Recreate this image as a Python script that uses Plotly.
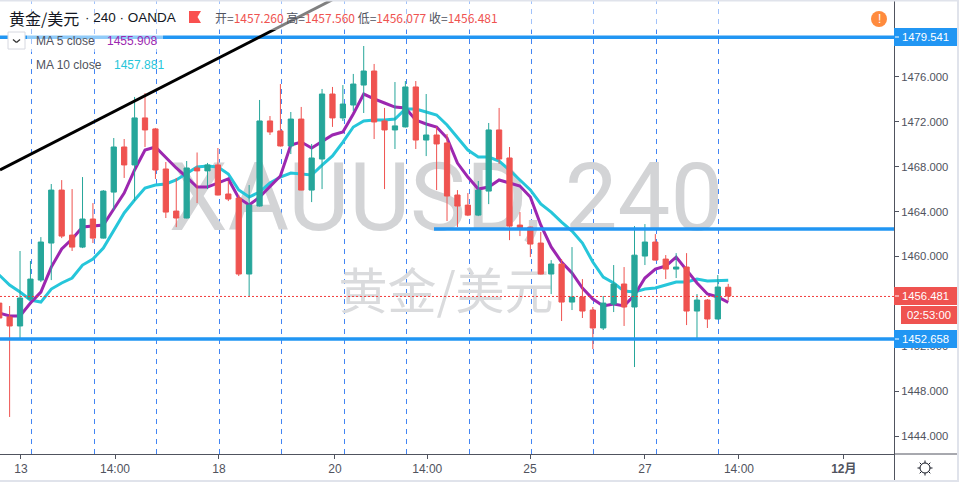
import plotly.graph_objects as go

W, H = 959, 482
PLOT_W, PLOT_H = 894, 454

index = list(range(71))
opens = [1455.85,1454.61,1453.81,1456.21,1457.90,1461.20,1465.92,1461.91,1460.84,1463.34,1461.64,1465.74,1469.76,1468.16,1472.35,1471.37,1467.80,1464.05,1463.43,1467.89,1467.63,1468.16,1465.57,1465.21,1458.44,1464.50,1472.08,1471.19,1469.85,1472.25,1465.92,1468.69,1474.48,1472.35,1473.50,1475.28,1476.53,1472.08,1471.28,1471.55,1475.11,1470.38,1470.83,1470.12,1465.48,1464.58,1463.69,1465.83,1471.28,1468.78,1462.80,1462.62,1461.20,1458.44,1459.33,1455.94,1456.39,1455.23,1453.63,1455.76,1457.55,1455.50,1460.04,1461.29,1459.77,1458.88,1459.06,1455.14,1456.12,1454.43,1457.26]
highs = [1456.12,1455.59,1460.49,1459.60,1461.73,1466.46,1466.81,1466.01,1467.08,1464.76,1465.92,1470.56,1470.47,1474.22,1474.57,1471.46,1468.42,1467.00,1468.51,1469.27,1468.34,1469.67,1466.73,1465.48,1466.37,1473.95,1472.52,1475.37,1472.88,1473.33,1470.03,1474.93,1475.11,1475.28,1476.27,1478.76,1477.16,1473.24,1475.55,1475.64,1475.64,1474.48,1471.55,1470.92,1465.92,1465.65,1466.73,1471.90,1473.24,1469.76,1463.96,1462.65,1462.18,1459.68,1459.77,1460.84,1457.99,1455.50,1456.48,1459.24,1459.06,1462.71,1462.89,1462.00,1460.13,1460.30,1460.30,1456.65,1456.21,1458.35,1457.56]
lows = [1454.16,1445.70,1452.65,1456.12,1457.72,1457.90,1461.64,1460.49,1460.75,1461.20,1461.60,1464.14,1467.00,1464.94,1469.76,1466.91,1463.43,1462.62,1463.40,1464.76,1466.01,1465.45,1464.94,1458.26,1456.48,1464.45,1470.83,1469.80,1469.13,1465.90,1464.85,1466.01,1471.55,1472.08,1472.97,1472.79,1470.47,1466.01,1469.58,1471.50,1469.58,1468.95,1465.92,1463.16,1462.62,1463.60,1463.60,1464.67,1468.25,1461.46,1461.82,1459.95,1458.40,1456.65,1454.25,1455.23,1454.52,1451.75,1453.45,1455.05,1453.81,1450.15,1459.24,1459.65,1457.99,1458.08,1453.89,1452.73,1453.63,1454.40,1456.08]
closes = [1454.52,1453.81,1456.30,1457.99,1461.29,1465.92,1461.82,1460.84,1463.34,1461.64,1465.83,1469.76,1468.16,1472.35,1471.28,1467.71,1463.96,1463.43,1467.89,1467.63,1468.16,1465.48,1465.12,1458.44,1464.58,1472.08,1471.10,1469.85,1472.25,1465.92,1468.78,1474.48,1472.35,1473.59,1475.37,1476.53,1471.99,1471.28,1471.64,1475.11,1470.38,1470.83,1470.03,1465.39,1464.50,1463.69,1465.92,1471.28,1468.69,1462.71,1462.53,1461.11,1458.44,1459.33,1455.94,1456.39,1455.14,1453.63,1455.85,1457.55,1455.50,1460.12,1461.29,1459.68,1458.88,1459.06,1455.14,1456.12,1454.43,1457.28,1456.48]
ma5 = [1454.96,1454.70,1454.70,1455.85,1456.83,1459.06,1460.67,1461.56,1462.63,1462.72,1462.80,1464.23,1465.66,1467.71,1469.49,1469.76,1468.78,1467.89,1467.08,1466.19,1466.19,1466.55,1466.91,1465.21,1464.59,1465.30,1466.19,1467.17,1469.94,1470.20,1469.67,1470.29,1470.83,1471.10,1472.70,1474.48,1474.04,1473.68,1473.32,1473.23,1472.16,1471.81,1471.54,1470.56,1468.33,1467.08,1466.01,1466.19,1466.82,1466.55,1466.28,1465.30,1462.81,1460.85,1459.51,1458.53,1457.19,1456.21,1455.59,1455.76,1455.59,1456.57,1458.08,1458.88,1459.15,1459.95,1458.80,1457.64,1456.66,1456.39,1455.908]
ma10 = [1458.35,1457.46,1456.83,1456.12,1455.94,1457.10,1457.64,1458.08,1459.24,1459.77,1460.76,1462.36,1463.88,1465.03,1466.10,1466.37,1466.46,1466.82,1467.44,1467.98,1468.07,1467.98,1467.35,1465.93,1465.30,1465.75,1466.55,1467.08,1467.44,1467.35,1467.26,1468.15,1468.96,1470.20,1471.54,1472.07,1472.16,1472.16,1472.25,1473.15,1473.15,1472.88,1472.61,1471.72,1470.65,1469.49,1468.87,1468.87,1468.51,1467.71,1466.82,1465.93,1464.68,1463.96,1463.07,1462.27,1461.20,1459.51,1458.17,1457.64,1456.92,1456.83,1457.10,1457.19,1457.46,1457.73,1457.73,1458.00,1457.82,1457.82,1457.881]

session_breaks = [3.101,9.151,15.104,21.153,27.106,33.155,39.108,45.157,51.110,57.063,63.113,69.066]
time_tick_pos = [2.09,11.12,21.10,32.24,41.10,50.97,62.00,71.03,81.10]
time_tick_labels = ["13","14:00","18","20","14:00","25","27","14:00","<b>12月</b>"]
price_ticks = [1444,1448,1452,1460,1464,1468,1472,1476]

level_top, level_mid, level_bottom = 1479.541, 1462.444, 1452.658
level_mid_start = 41.75
last_price = 1456.44
trend_x, trend_y = [0.0768, 31.95], [1467.71, 1482.86]

X_RANGE = [0.0768, 85.917]
Y_RANGE = [1442.40, 1482.86]

RED, GREEN, BLUE = "#EF5350", "#26A69A", "#2196F3"
PURPLE, CYAN, TXT = "#9C27B0", "#26C6DA", "#50535E"
FONT = "Liberation Sans"
CJK = "Noto Sans CJK SC"
BORDER = "#E0E3EB"

def px(x): return x / PLOT_W
def py(y): return 1 - y / PLOT_H

fig = go.Figure()

# main subplot: watermark and moving averages (below the candles)
fig.add_trace(go.Scatter(x=[42.9], y=[1464.5], mode="text", text=["XAUUSD, 240"],
    textposition="middle center", textfont=dict(family="Roboto", size=94, color="#D3D4D6"), hoverinfo="skip"))
fig.add_trace(go.Scatter(x=[42.9], y=[1456.4], mode="text", text=["黄金/美元"],
    textposition="middle center", textfont=dict(family=CJK, size=49, color="#DADBDD"), hoverinfo="skip"))
fig.add_trace(go.Scatter(x=index, y=ma10, mode="lines", line=dict(color=CYAN, width=3), hoverinfo="skip"))
fig.add_trace(go.Scatter(x=index, y=ma5, mode="lines", line=dict(color=PURPLE, width=3), hoverinfo="skip"))

# overlay subplot: candles, then horizontal levels and the trend line
fig.add_trace(go.Candlestick(x=index, open=opens, high=highs, low=lows, close=closes,
    xaxis="x2", yaxis="y2", whiskerwidth=0,
    increasing=dict(line=dict(color=GREEN, width=1), fillcolor=GREEN),
    decreasing=dict(line=dict(color=RED, width=1), fillcolor=RED), hoverinfo="skip"))
fig.add_trace(go.Scatter(x=X_RANGE, y=[last_price, last_price], xaxis="x2", yaxis="y2", mode="lines",
    line=dict(color="#F23B3B", width=1, dash="2px,2px"), hoverinfo="skip"))
for xs, lv in ((X_RANGE, level_top), (X_RANGE, level_bottom), ([level_mid_start, X_RANGE[1]], level_mid)):
    fig.add_trace(go.Scatter(x=xs, y=[lv, lv], xaxis="x2", yaxis="y2", mode="lines",
        line=dict(color=BLUE, width=3.5), hoverinfo="skip"))
fig.add_trace(go.Scatter(x=trend_x, y=trend_y, xaxis="x2", yaxis="y2", mode="lines",
    line=dict(color="#000000", width=3), hoverinfo="skip"))

shapes = []
for b in session_breaks:
    shapes.append(dict(type="line", xref="x", yref="paper", x0=b, x1=b, y0=0, y1=1, layer="below",
                       line=dict(color="#4285F4", width=1, dash="5px,5px")))

def rect(x0, y0, x1, y1, fill, line=None):
    shapes.append(dict(type="rect", xref="paper", yref="paper", x0=px(x0), x1=px(x1), y0=py(y1), y1=py(y0),
                       fillcolor=fill, line=dict(width=0) if line is None else dict(color=line, width=1), layer="above"))
def seg(x0, y0, x1, y1, color, width=1):
    shapes.append(dict(type="line", xref="paper", yref="paper", x0=px(x0), x1=px(x1), y0=py(y0), y1=py(y1),
                       line=dict(color=color, width=width), layer="above"))

# translucent header backgrounds
rect(0, 0, 840, 30, "rgba(255,255,255,0.5)")
rect(27, 30, 163, 52, "rgba(255,255,255,0.5)")

# axis extensions and page frame
seg(894.5, 454, 957, 454, TXT)
seg(894.5, 454, 894.5, 480, TXT)
rect(0, 0, 959, 1.5, BORDER)
rect(957, 0, 959, 482, BORDER)
rect(0, 480, 959, 482, BORDER)

# price labels
rect(894, 28, 957, 46, BLUE)
rect(894, 287, 957, 305, RED)
rect(901, 306, 957, 324, RED)
rect(894, 330, 957, 348, BLUE)
for yy in (37, 296, 339):
    seg(895, yy, 899, yy, "#FFFFFF")

# drop-down button with chevron
shapes.append(dict(type="rect", xref="paper", yref="paper", x0=px(8), x1=px(25), y0=py(49), y1=py(32),
                   fillcolor="#FFFFFF", line=dict(color="#D6D8E0", width=1), layer="above"))
seg(13, 39.5, 16.5, 42.5, "#333333", 1.3)
seg(16.5, 42.5, 20, 39.5, "#333333", 1.3)

# flag
shapes.append(dict(type="path", xref="paper", yref="paper", layer="above", fillcolor="#F9504F", line=dict(width=0),
    path=f"M{px(189)},{py(11)} L{px(201)},{py(11)} L{px(197.5)},{py(17)} L{px(201)},{py(23)} L{px(189)},{py(23)} Z"))

# alert circle
shapes.append(dict(type="circle", xref="paper", yref="paper", layer="above", fillcolor="#FF8B3E", line=dict(width=0),
                   x0=px(871), x1=px(887), y0=py(27), y1=py(11)))

# settings icon
shapes.append(dict(type="circle", xref="paper", yref="paper", layer="above", fillcolor="#FFFFFF",
                   line=dict(color="#131722", width=1), x0=px(920), x1=px(930), y0=py(473), y1=py(463)))
for x0, y0, x1, y1 in ((925,460.5,925,463),(925,473,925,475.5),(917.5,468,920,468),(930,468,932.5,468),
                       (919.7,462.7,921.5,464.5),(928.5,471.5,930.3,473.3),(919.7,473.3,921.5,471.5),(928.5,464.5,930.3,462.7)):
    seg(x0, y0, x1, y1, "#131722")

anns = []
def text(x, y, s, color=TXT, size=12, family=FONT, anchor="left"):
    anns.append(dict(xref="paper", yref="paper", x=px(x), y=py(y), text=s, showarrow=False, xanchor=anchor,
                     yanchor="middle", font=dict(family=family, size=size, color=color), borderpad=0))

text(8, 18, "黄金/美元", "#131722", 16, CJK)
text(84, 18, "· 240 · OANDA", "#131722", 13.5)
def sp(s): return f'<span style="color:{RED}">{s}</span>'
text(214, 18, "开=" + sp("1457.260") + " 高=" + sp("1457.560") + " 低=" + sp("1456.077") + " 收=" + sp("1456.481"), TXT, 12, CJK)
text(35, 41, "MA 5 close", TXT, 12)
text(106, 41, "1455.908", PURPLE, 12)
text(35, 65, "MA 10 close", TXT, 12)
text(113, 65, "1457.881", CYAN, 12)
text(879, 19, "!", "#FFFFFF", 12, FONT, "center")
text(925.5, 37, "1479.541", "#FFFFFF", 11.3, anchor="center")
text(925.5, 296, "1456.481", "#FFFFFF", 11.3, anchor="center")
text(929, 315, "02:53:00", "#FFFFFF", 11.3, anchor="center")
text(925.5, 339, "1452.658", "#FFFFFF", 11.3, anchor="center")

fig.update_layout(
    width=W, height=H, showlegend=False, plot_bgcolor="#FFFFFF", paper_bgcolor="#FFFFFF",
    margin=dict(l=0, r=W - PLOT_W, t=0, b=H - PLOT_H, pad=0, autoexpand=False),
    boxgap=0.28, shapes=shapes, annotations=anns, hovermode=False, dragmode=False,
    xaxis=dict(range=X_RANGE, showgrid=False, zeroline=False, rangeslider=dict(visible=False),
               tickmode="array", tickvals=time_tick_pos, ticktext=time_tick_labels,
               ticks="outside", ticklen=4, tickcolor=TXT, showline=True, linecolor=TXT, linewidth=1,
               tickfont=dict(family=f"{FONT}, {CJK}", size=12, color=TXT)),
    yaxis=dict(range=Y_RANGE, side="right", showgrid=False, zeroline=False,
               tickmode="array", tickvals=price_ticks, tickformat=".3f",
               ticks="outside", ticklen=4, tickcolor=TXT, showline=True, linecolor=TXT, linewidth=1,
               tickfont=dict(family=FONT, size=11.3, color=TXT)),
    xaxis2=dict(range=X_RANGE, overlaying="x", visible=False, rangeslider=dict(visible=False)),
    yaxis2=dict(range=Y_RANGE, overlaying="y", visible=False, side="right"),
)

fig.write_html("out.html", config=dict(displayModeBar=False),
               post_script="document.body.style.margin='0';document.body.style.overflow='hidden';")
